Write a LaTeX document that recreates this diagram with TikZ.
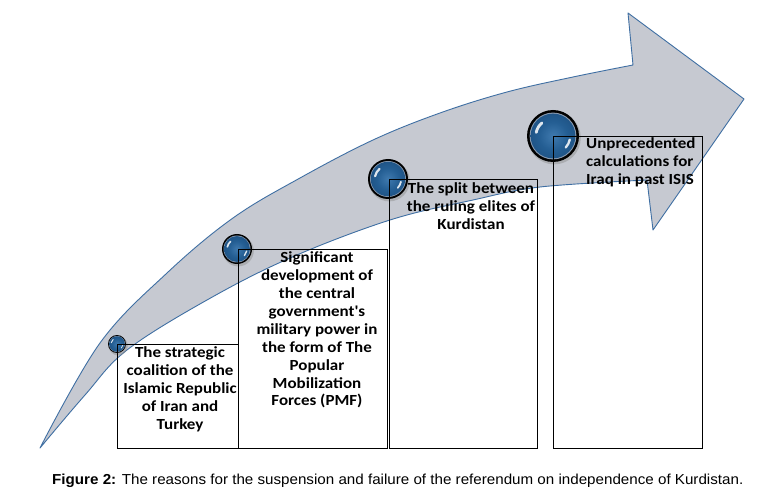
\documentclass[tikz,border=0pt]{standalone}
\usepackage{fontspec}
\usetikzlibrary{calc}
\newfontfamily\calib{Carlito}[FakeStretch=1.1]
\newfontfamily\arialf{Liberation Sans}[FakeStretch=1.05]
\definecolor{arrowfill}{HTML}{C6C9D1}
\definecolor{arrowedge}{HTML}{3F6FA3}
\definecolor{sphdark}{HTML}{1B4C7C}
\definecolor{sphmid}{HTML}{245E93}
\definecolor{sphlight}{HTML}{3F79AE}
\definecolor{sphrim}{HTML}{8A9BB0}
\pgfdeclareradialshading{sph}{\pgfpoint{0bp}{0bp}}{color(0bp)=(sphlight); color(16bp)=(sphmid); color(34bp)=(sphdark); color(50bp)=(sphdark)}
\tikzset{
  arrowshape/.style={fill=arrowfill, draw=arrowedge, line width=0.9pt, line join=round},
  boxframe/.style={draw=black, line width=0.9pt},
  boxtext/.style={font=\calib\bfseries\fontsize{15.5}{18}\selectfont, align=center, inner sep=0pt},
  captext/.style={font=\arialf\fontsize{14.5}{16}\selectfont, inner sep=0pt, anchor=base west},
  hilite/.style={draw=white, line cap=round, opacity=0.85},
}
\newcommand\gsphere[3]{%
  \fill[black!45, opacity=0.45] ({#1+1.2},{#2+1.8}) circle ({#3+0.6});
  \fill[black] (#1,#2) circle (#3);
  \fill[sphrim] (#1,#2) circle ({0.9*#3});
  \shade[shading=sph] (#1,#2) circle ({0.86*#3});
  \draw[hilite, line width={0.11*#3}] ($(#1,#2)+(-130:{0.66*#3})$) arc[start angle=-130, end angle=-168, radius={0.66*#3}];
  \draw[hilite, line width={0.09*#3}] ($(#1,#2)+(12:{0.66*#3})$) arc[start angle=12, end angle=42, radius={0.66*#3}];
}
\begin{document}
\begin{tikzpicture}[x=1bp,y=-1bp]
\useasboundingbox (0,0) rectangle (775,497);
\fill[white] (0,0) rectangle (775,497);
% big curved arrow
\draw[arrowshape] plot[smooth, tension=0.6] coordinates {(40,448) (100,343) (167,273) (233,218) (300,178) (373,140) (440,113) (507,92) (573,77) (633,65)}
  -- (628,13) -- (744,99) -- (653,230) -- (647,180)
  -- plot[smooth, tension=0.6] coordinates {(647,180) (540,187) (473,200) (390,220) (290,258) (207,300) (127,350) (85,395) (40,448)} -- cycle;
% spheres
\gsphere{117}{344}{9}
\gsphere{237}{249}{15}
\gsphere{388}{179}{20}
\gsphere{553}{136}{26}
% boxes
\draw[boxframe] (117,344) rectangle (238,448);
\draw[boxframe] (238,249) rectangle (387,448);
\draw[boxframe] (389,179) rectangle (537,448);
\draw[boxframe] (553,136) rectangle (702,448);
% texts
\node[boxtext] (t1) at (180,389.5) {The strategic\\coalition of the\\Islamic Republic\\of Iran and\\Turkey};
\node[boxtext] (t2) at (317,330) {Significant\\development of\\the central\\government's\\military power in\\the form of The\\Popular\\Mobilization\\Forces (PMF)};
\node[boxtext] (t3) at (471,206) {The split between\\the ruling elites of\\Kurdistan};
\node[boxtext, align=left, anchor=west] (t4) at (586,162) {Unprecedented\\calculations for\\Iraq in past ISIS};
\node[captext] (cap) at (52,484) {\textbf{Figure 2:} The reasons for the suspension and failure of the referendum on independence of Kurdistan.};
\end{tikzpicture}
\end{document}
